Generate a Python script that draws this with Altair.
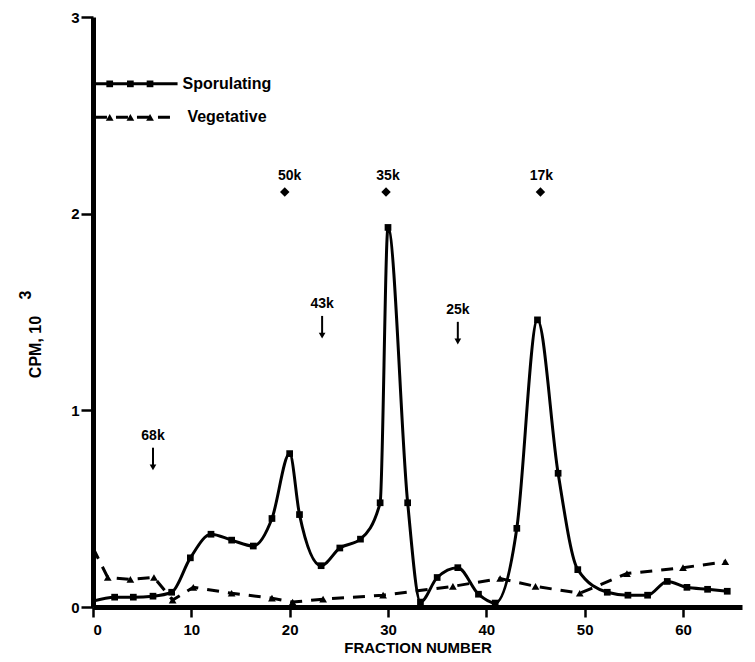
import altair as alt
import pandas as pd

# Sporulating series (fraction number, CPM x 10^3)
spor_x = [0, 2.2, 4.1, 6.1, 8.0, 9.9, 12.0, 14.1, 16.3, 18.2, 20.0, 21.0, 23.2, 25.1, 27.2,
          29.2, 30.0, 32.0, 33.3, 35.0, 37.1, 39.2, 40.9, 43.1, 45.2, 47.3, 49.3, 52.3,
          54.4, 56.4, 58.4, 60.4, 62.5, 64.5]
spor_y = [0.03, 0.05, 0.05, 0.055, 0.075, 0.25, 0.37, 0.34, 0.31, 0.45, 0.78, 0.47, 0.21,
          0.30, 0.345, 0.53, 1.93, 0.53, 0.025, 0.15, 0.20, 0.065, 0.02, 0.40, 1.46, 0.68,
          0.19, 0.075, 0.06, 0.06, 0.13, 0.10, 0.09, 0.08]

# Vegetative series
veg_x = [0, 1.5, 3.8, 6.2, 8.1, 10.2, 14.1, 18.2, 20.3, 23.4, 29.5, 36.6, 41.4, 45.0,
         49.5, 54.3, 60.0, 64.3]
veg_y = [0.30, 0.15, 0.14, 0.15, 0.035, 0.10, 0.07, 0.045, 0.025, 0.04, 0.06, 0.105,
         0.145, 0.105, 0.07, 0.17, 0.20, 0.23]

# Marker annotations (arrows)
arrow_labels = ["68k", "43k", "25k"]
arrow_x = [6.1, 23.3, 37.1]
arrow_text_y = [0.87, 1.54, 1.51]
arrow_top = [0.81, 1.48, 1.45]
arrow_bottom = [0.71, 1.38, 1.35]

# Marker annotations (diamonds)
diamond_labels = ["50k", "35k", "17k"]
diamond_x = [19.5, 29.8, 45.5]
diamond_text_x = [20.0, 30.0, 45.6]
diamond_y = [2.11, 2.11, 2.11]
diamond_text_y = [2.19, 2.19, 2.19]

# Legend
legend_labels = ["Sporulating", "Vegetative"]
legend_y = [2.66, 2.49]
legend_x0 = 0.2
legend_x1 = 8.6
legend_marker_x = [1.7, 3.8, 5.8]
legend_text_x = [9.1, 9.6]

FONT = "Liberation Sans"
XD = [0, 66]
YD = [0, 3]

spor = pd.DataFrame({"x": spor_x, "y": spor_y})
spor["m"] = [i > 0 for i in range(len(spor))]
veg = pd.DataFrame({"x": veg_x, "y": veg_y})
veg["m"] = [i > 0 for i in range(len(veg))]

xs = alt.Scale(domain=XD, nice=False, zero=False)
ys = alt.Scale(domain=YD, nice=False)

xaxis = alt.Axis(values=[0, 10, 20, 30, 40, 50, 60], format="d", grid=False,
                 labelPadding=5, titlePadding=3)
yaxis = alt.Axis(values=[0, 1, 2, 3], format="d", grid=False, tickSize=12, labelPadding=2)


def X(f="x"):
    return alt.X(f"{f}:Q", scale=xs, axis=xaxis, title="FRACTION NUMBER")


def Y(f="y"):
    return alt.Y(f"{f}:Q", scale=ys, axis=yaxis, title=None)


spor_line = alt.Chart(spor).mark_line(color="black", strokeWidth=3, interpolate="monotone").encode(
    x=X(), y=Y())
spor_pts = alt.Chart(spor).transform_filter("datum.m").mark_point(
    shape="square", filled=True, color="black", size=45, opacity=1).encode(x=X(), y=Y())

veg_line = alt.Chart(veg).mark_line(color="black", strokeWidth=3, strokeDash=[12, 9]).encode(
    x=X(), y=Y())
veg_pts = alt.Chart(veg).transform_filter("datum.m").mark_point(
    shape="triangle-up", filled=True, color="black", size=60, opacity=1).encode(x=X(), y=Y())

arr = pd.DataFrame({"label": arrow_labels, "x": arrow_x, "ty": arrow_text_y,
                    "top": arrow_top, "bottom": arrow_bottom})
arr_text = alt.Chart(arr).mark_text(font=FONT, fontSize=14, fontWeight="bold", color="black",
                                    baseline="middle").encode(
    x=X(), y=Y("ty"), text="label:N")
arr_rule = alt.Chart(arr).mark_rule(color="black", strokeWidth=2).encode(
    x=X(), y=Y("top"), y2="bottom:Q")
arr_head = alt.Chart(arr).mark_point(shape="triangle-down", filled=True, color="black",
                                     size=45, opacity=1).encode(x=X(), y=Y("bottom"))

dia = pd.DataFrame({"label": diamond_labels, "x": diamond_x, "tx": diamond_text_x,
                    "y": diamond_y, "ty": diamond_text_y})
dia_pts = alt.Chart(dia).mark_point(shape="diamond", filled=True, color="black", size=90,
                                    opacity=1).encode(x=X(), y=Y())
dia_text = alt.Chart(dia).mark_text(font=FONT, fontSize=14, fontWeight="bold", color="black",
                                    baseline="middle").encode(
    x=X("tx"), y=Y("ty"), text="label:N")

leg = pd.DataFrame({"label": legend_labels, "y": legend_y, "x0": [legend_x0] * 2,
                    "x1": [legend_x1] * 2, "tx": legend_text_x,
                    "dash": ["solid", "dash"]})
leg_solid = alt.Chart(leg[leg.dash == "solid"]).mark_rule(color="black", strokeWidth=3).encode(
    x=X("x0"), x2="x1:Q", y=Y())
leg_dash = alt.Chart(leg[leg.dash == "dash"]).mark_rule(color="black", strokeWidth=3,
                                                          strokeDash=[12, 9]).encode(
    x=X("x0"), x2="x1:Q", y=Y())
legm = pd.DataFrame([{"x": mx, "y": ly, "shape": sh}
                     for ly, sh in zip(legend_y, ["square", "triangle-up"])
                     for mx in legend_marker_x])
leg_sq = alt.Chart(legm[legm["shape"] == "square"]).mark_point(
    shape="square", filled=True, color="black", size=45, opacity=1).encode(x=X(), y=Y())
leg_tri = alt.Chart(legm[legm["shape"] == "triangle-up"]).mark_point(
    shape="triangle-up", filled=True, color="black", size=60, opacity=1).encode(x=X(), y=Y())
leg_text = alt.Chart(leg).mark_text(font=FONT, fontSize=16, fontWeight="bold", color="black",
                                    align="left", baseline="middle").encode(
    x=X("tx"), y=Y(), text="label:N")

# y-axis title with superscript
ytitle = alt.Chart(pd.DataFrame({"t": ["CPM,  10"]})).mark_text(
    font=FONT, fontSize=16, fontWeight="bold", color="black", angle=270,
    align="center", baseline="middle").encode(
    x=alt.value(-57), y=alt.value(330), text="t:N")
ysup = alt.Chart(pd.DataFrame({"t": ["3"]})).mark_text(
    font=FONT, fontSize=16, fontWeight="bold", color="black", angle=270,
    align="center", baseline="middle").encode(
    x=alt.value(-67), y=alt.value(278), text="t:N")

chart = alt.layer(
    veg_line, veg_pts, spor_line, spor_pts,
    arr_rule, arr_head, arr_text, dia_pts, dia_text,
    leg_solid, leg_dash, leg_sq, leg_tri, leg_text, ytitle, ysup
).properties(
    width=649, height=590,
    autosize=alt.AutoSizeParams(type="none"),
    padding={"left": 85, "top": 9, "right": 5, "bottom": 48},
    background="white",
).configure_view(stroke=None).configure_axis(
    domainWidth=5, domainColor="black", tickColor="black", tickWidth=2.5, tickSize=10,
    labelFont=FONT, labelFontSize=15, labelFontWeight="bold", labelColor="black",
    labelPadding=3, titleFont=FONT, titleFontSize=15, titleFontWeight="bold",
    titleColor="black", titlePadding=2,
)

chart.save("out.html", embed_options={"renderer": "svg", "actions": False})
